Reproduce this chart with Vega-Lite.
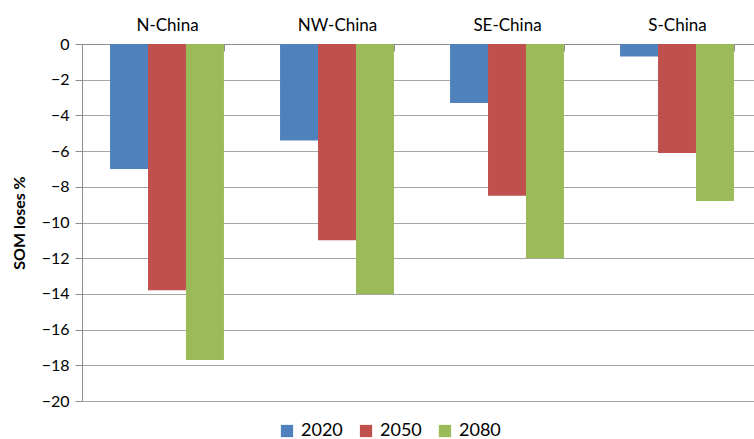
{
  "$schema": "https://vega.github.io/schema/vega-lite/v6.json",
  "width": 672,
  "height": 357,
  "autosize": {"type": "none"},
  "padding": {"left": 82, "top": 44, "right": 0, "bottom": 38},
  "background": "white",
  "config": {
    "font": "Lato",
    "view": {"stroke": null}
  },
  "data": {
    "values": [
      {"region": "N-China", "year": "2020", "value": -7.0},
      {"region": "N-China", "year": "2050", "value": -13.8},
      {"region": "N-China", "year": "2080", "value": -17.7},
      {"region": "NW-China", "year": "2020", "value": -5.4},
      {"region": "NW-China", "year": "2050", "value": -11.0},
      {"region": "NW-China", "year": "2080", "value": -14.0},
      {"region": "SE-China", "year": "2020", "value": -3.3},
      {"region": "SE-China", "year": "2050", "value": -8.5},
      {"region": "SE-China", "year": "2080", "value": -12.0},
      {"region": "S-China", "year": "2020", "value": -0.7},
      {"region": "S-China", "year": "2050", "value": -6.1},
      {"region": "S-China", "year": "2080", "value": -8.8}
    ]
  },
  "mark": {"type": "bar"},
  "encoding": {
    "x": {
      "field": "region",
      "type": "nominal",
      "sort": ["N-China", "NW-China", "SE-China", "S-China"],
      "scale": {"range": [0, 680], "paddingInner": 0.33, "paddingOuter": 0.165},
      "axis": {
        "orient": "top",
        "title": null,
        "labelAngle": 0,
        "labelFontSize": 17,
        "labelColor": "#000000",
        "labelPadding": 17,
        "domainColor": "#8c8c8c",
        "tickColor": "#8c8c8c",
        "tickSize": -7,
        "tickBand": "extent",
        "grid": false
      }
    },
    "xOffset": {"field": "year", "type": "nominal"},
    "y": {
      "field": "value",
      "type": "quantitative",
      "scale": {"domain": [-20, 0], "nice": false},
      "axis": {
        "values": [0, -2, -4, -6, -8, -10, -12, -14, -16, -18, -20],
        "title": "SOM loses %",
        "titleFontSize": 16,
        "titleFontWeight": "bold",
        "titleColor": "#000000",
        "titlePadding": 14,
        "labelFontSize": 16,
        "labelColor": "#000000",
        "labelPadding": 6,
        "domainColor": "#8c8c8c",
        "tickColor": "#8c8c8c",
        "tickSize": 7,
        "gridColor": "#a6a6a6",
        "gridWidth": 1.2
      }
    },
    "color": {
      "field": "year",
      "type": "nominal",
      "scale": {"domain": ["2020", "2050", "2080"], "range": ["#4f81bd", "#c0504d", "#9bbb59"]},
      "legend": {
        "orient": "none",
        "direction": "horizontal",
        "legendX": 196,
        "legendY": 378,
        "title": null,
        "symbolType": "square",
        "symbolSize": 150,
        "symbolStrokeWidth": 0,
        "labelFontSize": 18,
        "labelColor": "#000000",
        "columnPadding": 14,
        "labelOffset": 5
      }
    }
  }
}
